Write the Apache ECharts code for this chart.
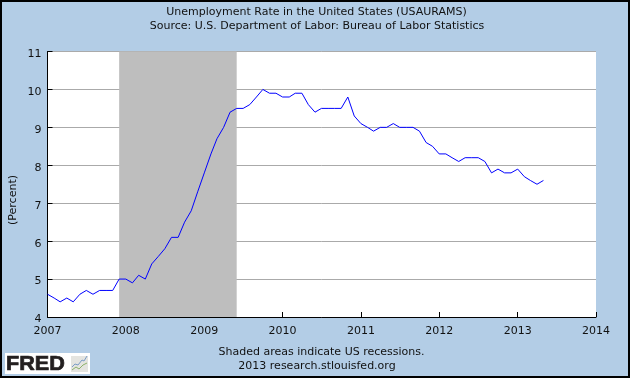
<!DOCTYPE html>
<html><head><meta charset="utf-8">
<style>html,body{margin:0;padding:0;background:#b3cde6}#c{width:630px;height:378px}</style>
<script src="https://cdn.jsdelivr.net/npm/echarts@6/dist/echarts.min.js"></script>
</head><body><div id="c"></div>
<script>
const startYear = 2007;
const y2007 = [4.6,4.5,4.4,4.5,4.4,4.6,4.7,4.6,4.7,4.7,4.7,5.0];
const y2008 = [5.0,4.9,5.1,5.0,5.4,5.6,5.8,6.1,6.1,6.5,6.8,7.3];
const y2009 = [7.8,8.3,8.7,9.0,9.4,9.5,9.5,9.6,9.8,10.0,9.9,9.9];
const y2010 = [9.8,9.8,9.9,9.9,9.6,9.4,9.5,9.5,9.5,9.5,9.8,9.3];
const y2011 = [9.1,9.0,8.9,9.0,9.0,9.1,9.0,9.0,9.0,8.9,8.6,8.5];
const y2012 = [8.3,8.3,8.2,8.1,8.2,8.2,8.2,8.1,7.8,7.9,7.8,7.8];
const y2013 = [7.9,7.7,7.6,7.5,7.6];
const rates = [y2007,y2008,y2009,y2010,y2011,y2012,y2013];
const recessionStart = '2007-12-01', recessionEnd = '2009-06-01';
const seriesData = [];
rates.forEach((vals,i)=>vals.forEach((v,m)=>seriesData.push([Date.UTC(startYear+i,m,1),v])));
const font = 'DejaVu Sans', ink = '#111';
const chart = echarts.init(document.getElementById('c'),null,{renderer:'canvas',useUTC:true});
chart.setOption({
  useUTC:true, animation:false, backgroundColor:'#b3cde6',
  grid:{left:47.5,right:34,top:51.5,bottom:61,backgroundColor:'#fff',show:true,borderWidth:0,outerBoundsMode:'none'},
  title:[
    {text:'Unemployment Rate in the United States (USAURAMS)',left:311.5,top:2,textAlign:'center',
     textStyle:{fontFamily:font,fontSize:11,fontWeight:'normal',color:ink}},
    {text:'Source: U.S. Department of Labor: Bureau of Labor Statistics',left:312,top:16,textAlign:'center',
     textStyle:{fontFamily:font,fontSize:11,fontWeight:'normal',color:ink}},
    {text:'Shaded areas indicate US recessions.',left:316.5,top:342,textAlign:'center',
     textStyle:{fontFamily:font,fontSize:11,fontWeight:'normal',color:ink}},
    {text:'2013 research.stlouisfed.org',left:312,top:356,textAlign:'center',
     textStyle:{fontFamily:font,fontSize:11,fontWeight:'normal',color:ink}}
  ],
  xAxis:{type:'time',min:Date.UTC(2007,0,1),max:Date.UTC(2014,0,1),splitNumber:7,
    axisLine:{lineStyle:{color:'#000',width:1}},
    axisTick:{inside:true,length:5,lineStyle:{color:'#000'}},
    minorTick:{show:false},
    splitLine:{show:false},
    axisLabel:{fontFamily:font,fontSize:11,color:ink,margin:9,hideOverlap:false,showMinLabel:true,showMaxLabel:true,
      formatter:v=>String(new Date(v).getUTCFullYear())}},
  yAxis:{type:'value',min:4,max:11,interval:1,
    axisLine:{show:true,lineStyle:{color:'#000',width:1}},
    axisTick:{show:true,inside:true,length:5,lineStyle:{color:'#000'}},
    axisLabel:{margin:6,formatter:'{a|{value}}',
      rich:{a:{fontFamily:font,fontSize:11,color:ink,padding:[5,0,0,0]}}},
    splitLine:{show:true,lineStyle:{color:'#aaa',width:1}}},
  series:[{type:'line',data:seriesData,showSymbol:false,symbol:'none',smooth:false,
    lineStyle:{color:'#0000ff',width:1},
    markArea:{silent:true,itemStyle:{color:'#bebebe',opacity:1},
      data:[[{xAxis:recessionStart},{xAxis:recessionEnd}]]}}],
  graphic:[
    {type:'text',silent:true,x:13,y:200,rotation:Math.PI/2,originX:0,originY:0,
      style:{text:'(Percent)',fontFamily:font,fontSize:11,fill:ink,align:'center',verticalAlign:'middle'}},
    {type:'rect',silent:true,z:100,shape:{x:1,y:1,width:628,height:376},style:{fill:'none',stroke:'#000',lineWidth:2}},
    {type:'group',z:100,silent:true,children:[
      {type:'rect',shape:{x:5,y:353,width:85,height:21},style:{fill:'#fff'}},
      {type:'text',x:6,y:354,scaleX:1.08,style:{text:'FRED',fontFamily:'Liberation Sans',fontWeight:'bold',fontSize:20,fill:'#231f20',stroke:'#231f20',lineWidth:0.7}},
      {type:'rect',shape:{x:71,y:356,width:17,height:16},style:{fill:'#e4e4e0'}},
      {type:'polyline',shape:{points:[[72,367],[75,364],[78,365],[82,360],[84,361],[87,356]]},style:{fill:'none',stroke:'#7a9cc6',lineWidth:1}},
      {type:'polyline',shape:{points:[[72,370],[76,367],[79,369],[83,365],[87,363]]},style:{fill:'none',stroke:'#8db26a',lineWidth:1}}
    ]}
  ]
});
</script></body></html>
